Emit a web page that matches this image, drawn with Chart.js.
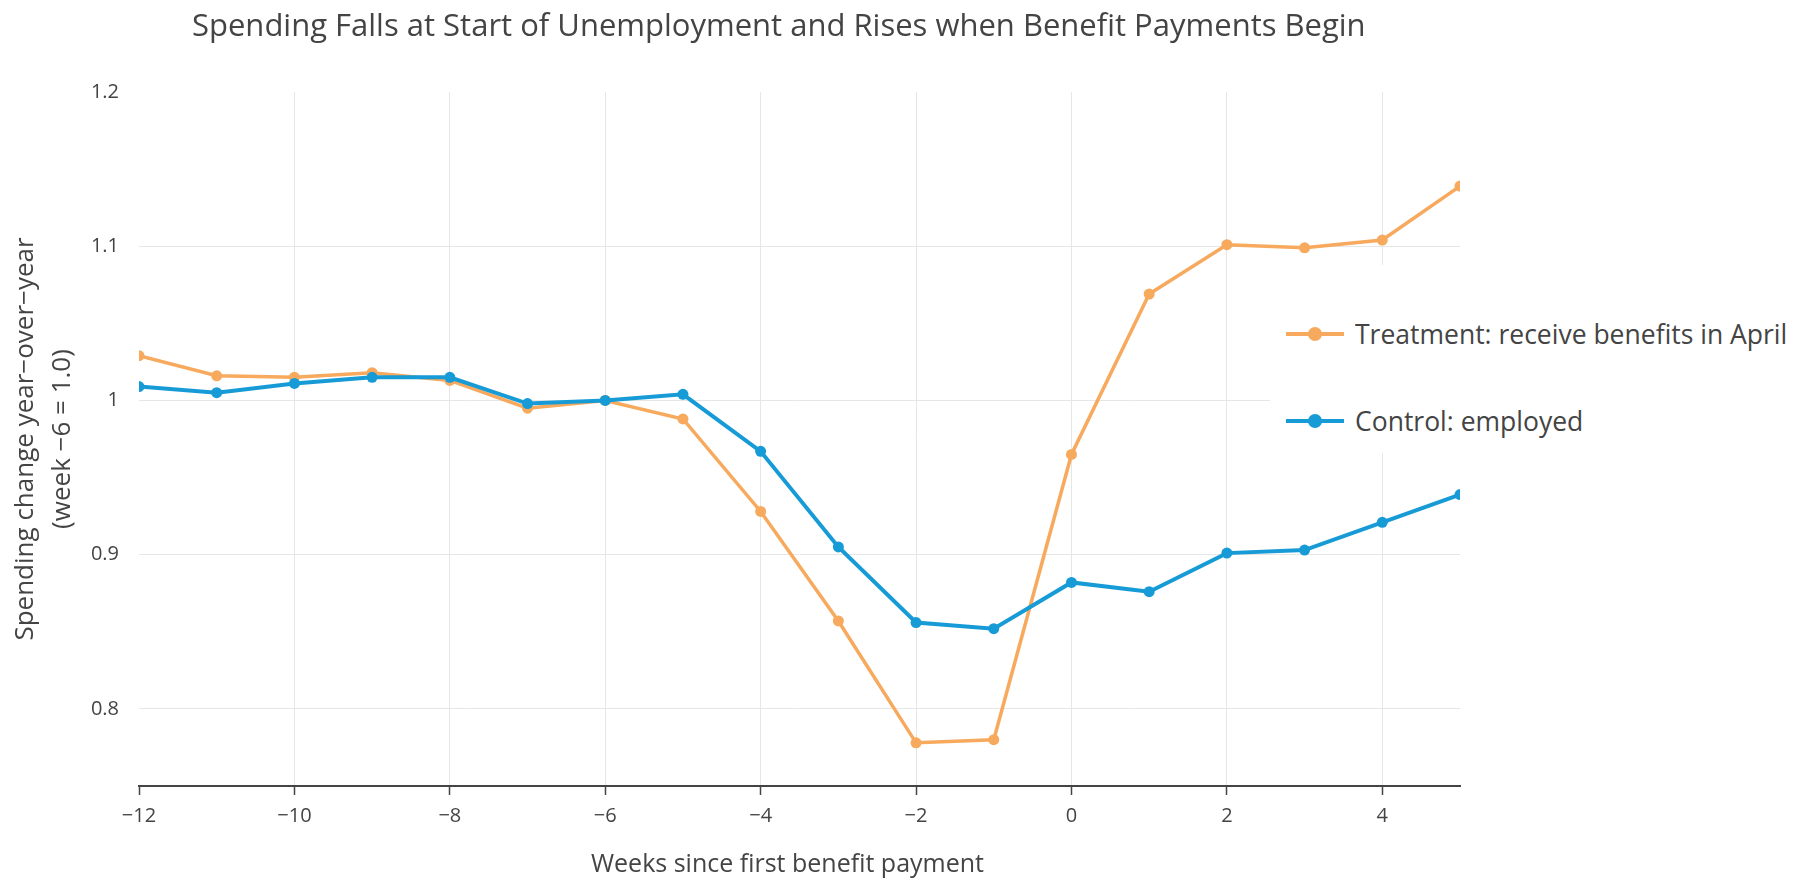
<!DOCTYPE html>
<html>
<head>
<meta charset="utf-8">
<title>Spending Falls at Start of Unemployment</title>
<script src="https://cdn.jsdelivr.net/npm/chart.js@4/dist/chart.umd.min.js"></script>
<style>
  html, body { margin: 0; padding: 0; background: #fff; overflow: hidden; }
  body { width: 1798px; height: 882px; position: relative; font-family: 'Open Sans', sans-serif; }
  #chart { position: absolute; left: 0; top: 0; }
  .title {
    position: absolute; left: 192px; top: 0; height: 48px; line-height: 48px;
    font-size: 31px; color: #444; white-space: nowrap;
  }
  .x-title {
    position: absolute; left: 591px; top: 844px; height: 36px; line-height: 36px;
    font-size: 25px; color: #444; white-space: nowrap;
  }
  .legend {
    position: absolute; left: 1270px; top: 265px; width: 528px; height: 188px;
    background: #fff;
  }
  .legend-item {
    position: absolute; left: 16px; height: 36px; line-height: 36px;
    font-size: 26.5px; color: #444; white-space: nowrap;
  }
  .swatch {
    display: inline-block; position: relative; width: 58px; height: 36px;
    vertical-align: top; margin-right: 11px;
  }
  .swatch::before {
    content: ''; position: absolute; left: 0; right: 0; top: 16px; height: 4px;
    background: var(--c);
  }
  .swatch::after {
    content: ''; position: absolute; left: 22px; top: 11px; width: 14px; height: 14px;
    border-radius: 50%; background: var(--c);
  }
</style>
</head>
<body>
<canvas id="chart" width="1798" height="882"></canvas>
<div class="title">Spending Falls at Start of Unemployment and Rises when Benefit Payments Begin</div>
<div class="x-title">Weeks since first benefit payment</div>
<div class="legend" id="legend"></div>
<script>
// weeks relative to the first benefit payment
const weeks = [-12, -11, -10, -9, -8, -7, -6, -5, -4, -3, -2, -1, 0, 1, 2, 3, 4, 5];

// spending index, week -6 = 1.0
const treatment = [1.029, 1.016, 1.015, 1.018, 1.013, 0.995, 1.000, 0.988, 0.928, 0.857,
                   0.778, 0.780, 0.965, 1.069, 1.101, 1.099, 1.104, 1.139];
const control = [1.009, 1.005, 1.011, 1.015, 1.015, 0.998, 1.000, 1.004, 0.967, 0.905,
                 0.856, 0.852, 0.882, 0.876, 0.901, 0.903, 0.921, 0.939];

const seriesNames = ['Treatment: receive benefits in April', 'Control: employed'];
const xTicks = [-12, -10, -8, -6, -4, -2, 0, 2, 4];
const yTicks = [0.8, 0.9, 1, 1.1, 1.2];

const ORANGE = '#f7a95d';
const BLUE = '#179bd7';
const GRID = '#e6e6e6';
const INK = '#444';

Chart.defaults.font.family = "'Open Sans', sans-serif";
Chart.defaults.color = INK;

const minus = v => String(v).replace('-', '\u2212');
const toPoints = vals => weeks.map((w, i) => ({ x: w, y: vals[i] }));

new Chart(document.getElementById('chart'), {
  type: 'line',
  data: {
    datasets: [
      {
        label: seriesNames[0],
        data: toPoints(treatment),
        borderColor: ORANGE,
        backgroundColor: ORANGE,
        borderWidth: 3.5,
        pointRadius: 5.5,
        pointHoverRadius: 5.5,
        pointBorderWidth: 0,
        tension: 0,
        order: 1
      },
      {
        label: seriesNames[1],
        data: toPoints(control),
        borderColor: BLUE,
        backgroundColor: BLUE,
        borderWidth: 4,
        pointRadius: 5.5,
        pointHoverRadius: 5.5,
        pointBorderWidth: 0,
        tension: 0,
        order: 0
      }
    ]
  },
  options: {
    responsive: false,
    animation: false,
    layout: { padding: { top: 92, right: 338, bottom: 0, left: 0 } },
    plugins: {
      legend: { display: false },
      title: { display: false },
      tooltip: { enabled: false }
    },
    scales: {
      x: {
        type: 'linear',
        min: -12,
        max: 5,
        afterBuildTicks: s => { s.ticks = xTicks.map(v => ({ value: v })); },
        afterFit: s => { s.height = 96; },
        border: { display: true, color: INK, width: 2 },
        grid: {
          color: ctx => (ctx.tick && ctx.tick.value === -12 ? 'rgba(0,0,0,0)' : GRID),
          lineWidth: 1,
          drawTicks: true,
          tickLength: 9,
          tickColor: INK,
          tickWidth: 1.5
        },
        ticks: {
          padding: 9,
          font: { size: 20 },
          color: INK,
          maxRotation: 0,
          callback: v => minus(v)
        },
        title: { display: false }
      },
      y: {
        min: 0.75,
        max: 1.2,
        afterBuildTicks: s => { s.ticks = yTicks.map(v => ({ value: v })); },
        afterFit: s => { s.width = 139; },
        border: { display: false },
        grid: {
          color: ctx => (ctx.tick && ctx.tick.value === 1.2 ? 'rgba(0,0,0,0)' : GRID),
          lineWidth: 1,
          drawTicks: false
        },
        ticks: {
          padding: 20,
          font: { size: 20 },
          color: INK,
          callback: v => String(v)
        },
        title: {
          display: true,
          text: ['Spending change year\u2212over\u2212year', '(week \u22126 = 1.0)'],
          font: { size: 26, lineHeight: 1.42 },
          color: INK,
          padding: { top: 7, bottom: 0 }
        }
      }
    }
  }
});

// legend drawn over the right side of the plot
const legend = document.getElementById('legend');
[[seriesNames[0], ORANGE, 51], [seriesNames[1], BLUE, 138]].forEach(([name, color, top]) => {
  const item = document.createElement('div');
  item.className = 'legend-item';
  item.style.top = top + 'px';
  const sw = document.createElement('span');
  sw.className = 'swatch';
  sw.style.setProperty('--c', color);
  item.appendChild(sw);
  item.appendChild(document.createTextNode(name));
  legend.appendChild(item);
});
</script>
</body>
</html>
